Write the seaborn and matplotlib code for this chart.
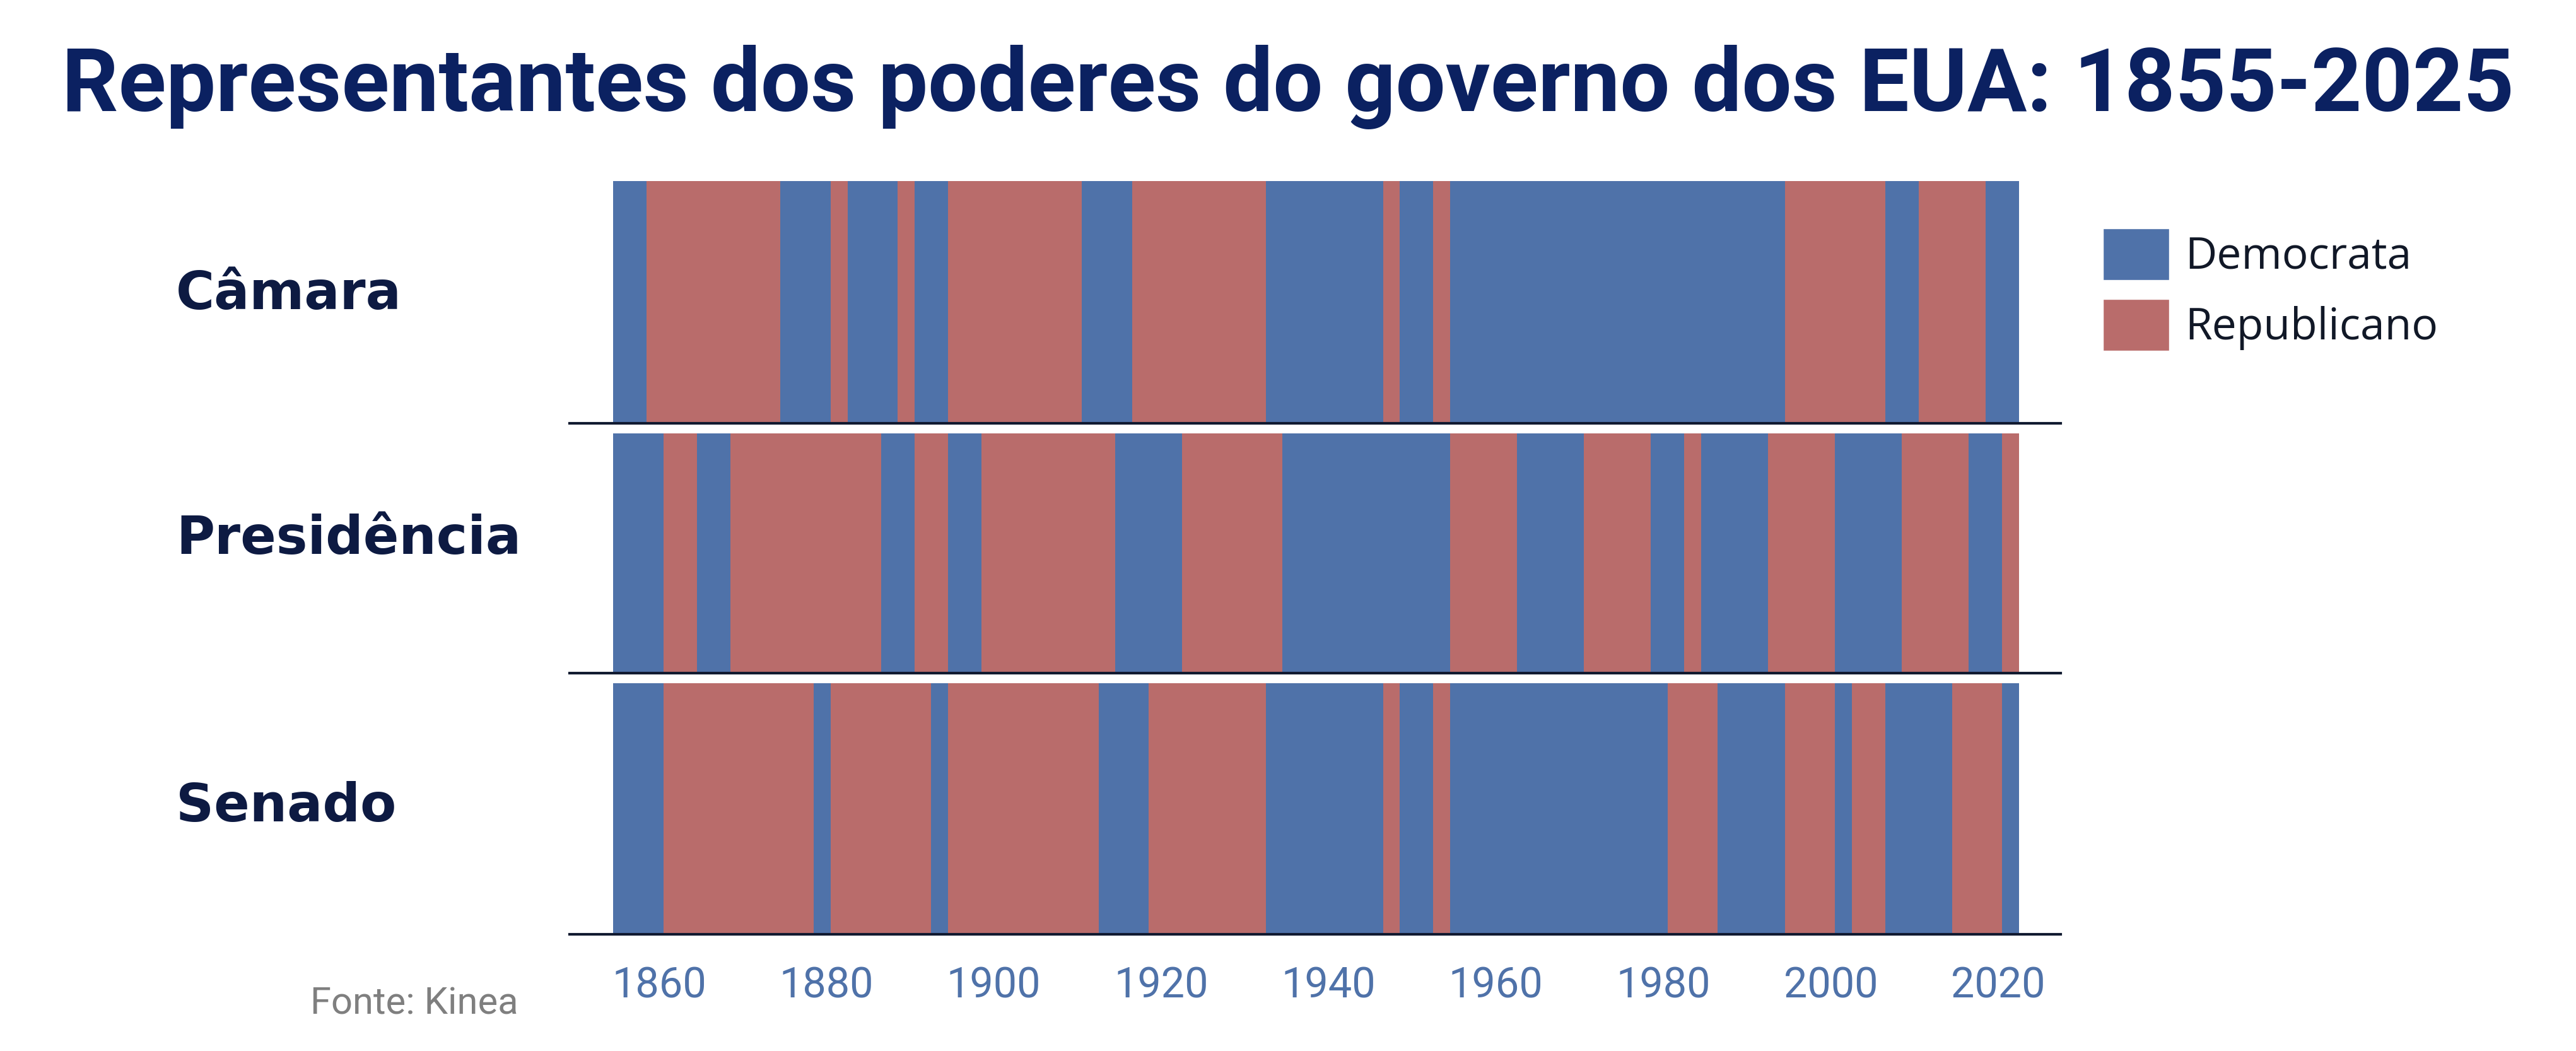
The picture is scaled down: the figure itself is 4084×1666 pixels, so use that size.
import numpy as np
import pandas as pd
import matplotlib.pyplot as plt
import seaborn as sns
from matplotlib.colors import ListedColormap
from matplotlib.patches import Patch

# periodo coberto (ano final exclusivo)
ano_inicial = 1855
ano_final = 2023

# inicio de cada mandato/maioria e partido (D = Democrata, R = Republicano)
camara_inicio = [1855, 1859, 1875, 1881, 1883, 1889, 1891, 1895, 1911, 1917,
                 1933, 1947, 1949, 1953, 1955, 1995, 2007, 2011, 2019]
camara_partido = ['D', 'R', 'D', 'R', 'D', 'R', 'D', 'R', 'D', 'R',
                  'D', 'R', 'D', 'R', 'D', 'R', 'D', 'R', 'D']

presidencia_inicio = [1855, 1861, 1865, 1869, 1887, 1891, 1895, 1899, 1915, 1923,
                      1935, 1955, 1963, 1971, 1979, 1983, 1985, 1993, 2001, 2009,
                      2017, 2021]
presidencia_partido = ['D', 'R', 'D', 'R', 'D', 'R', 'D', 'R', 'D', 'R',
                       'D', 'R', 'D', 'R', 'D', 'R', 'D', 'R', 'D', 'R',
                       'D', 'R']

senado_inicio = [1855, 1861, 1879, 1881, 1893, 1895, 1913, 1919, 1933, 1947,
                 1949, 1953, 1955, 1981, 1987, 1995, 2001, 2003, 2007, 2015,
                 2021]
senado_partido = ['D', 'R', 'D', 'R', 'D', 'R', 'D', 'R', 'D', 'R',
                  'D', 'R', 'D', 'R', 'D', 'R', 'D', 'R', 'D', 'R',
                  'D']

poderes = ['Câmara', 'Presidência', 'Senado']
anos_ticks = [1860, 1880, 1900, 1920, 1940, 1960, 1980, 2000, 2020]

azul = '#4f72a9'
vermelho = '#b96c6b'
cor_titulo = '#0b2161'
cor_rotulo = '#0d1a42'
cor_linha = '#111a30'

anos = np.arange(ano_inicial, ano_final)


def expandir(inicios, partidos):
    idx = np.searchsorted(inicios, anos, side='right') - 1
    return [1 if partidos[i] == 'R' else 0 for i in idx]


tabela = pd.DataFrame({
    'Câmara': expandir(camara_inicio, camara_partido),
    'Presidência': expandir(presidencia_inicio, presidencia_partido),
    'Senado': expandir(senado_inicio, senado_partido),
}, index=anos).T

sns.set_style('white')
plt.rcParams['font.family'] = ['DejaVu Sans']

fig = plt.figure(figsize=(40.84, 16.66), dpi=100)
W, H = 4084, 1666

# posicao das faixas em pixels (topo, base)
faixas = {'Câmara': (287, 671), 'Presidência': (687, 1067), 'Senado': (1083, 1481)}
base_rotulo = {'Câmara': 490, 'Presidência': 878, 'Senado': 1302}
x_esq, x_dir = 903, 3267
ncol = len(anos)
px_ano = (3201 - 972) / ncol
xlim = (-(972 - x_esq) / px_ano, ncol + (x_dir - 3201) / px_ano)

cmap = ListedColormap([azul, vermelho])

for i, nome in enumerate(poderes):
    topo, base = faixas[nome]
    ax = fig.add_axes([x_esq / W, 1 - base / H, (x_dir - x_esq) / W, (base - topo) / H])
    sns.heatmap(tabela.loc[[nome]], ax=ax, cmap=cmap, vmin=0, vmax=1, cbar=False,
                xticklabels=False, yticklabels=False)
    ax.set_xlim(*xlim)
    ax.spines['bottom'].set_visible(True)
    ax.spines['bottom'].set_color(cor_linha)
    ax.spines['bottom'].set_linewidth(3)
    ax.set_xlabel('')
    ax.set_ylabel('')
    fig.text(279 / W, 1 - base_rotulo[nome] / H, nome, ha='left', va='baseline',
             fontsize=60, fontweight='bold', color=cor_rotulo, family='DejaVu Sans')
    if i == len(poderes) - 1:
        ax.set_xticks([a - ano_inicial + 0.5 for a in anos_ticks])
        ax.set_xticklabels([str(a) for a in anos_ticks],
                           family=['Liberation Sans Narrow', 'Roboto'])
        ax.tick_params(axis='x', length=0, pad=36, labelsize=48, labelcolor=azul,
                       labelrotation=0)

fig.text(0.5, 1 - 176 / H, 'Representantes dos poderes do governo dos EUA: 1855-2025',
         ha='center', va='baseline', fontsize=101, fontweight='bold',
         color=cor_titulo, family='Roboto')

fig.text(492 / W, 1 - 1608 / H, 'Fonte: Kinea', ha='left', va='baseline',
         fontsize=43, color='#7f7f7f', family='Roboto')

handles = [Patch(facecolor=azul, label='Democrata'),
           Patch(facecolor=vermelho, label='Republicano')]
fig.legend(handles=handles, loc='upper left', bbox_to_anchor=(3334 / W, 1 - 362 / H),
           frameon=False, prop={'family': 'Open Sans', 'size': 50},
           handlelength=1.51, handleheight=1.45, handletextpad=0.37,
           labelspacing=0.42, borderpad=0, borderaxespad=0, labelcolor='#111827')

fig.savefig('out.png', dpi=100)
